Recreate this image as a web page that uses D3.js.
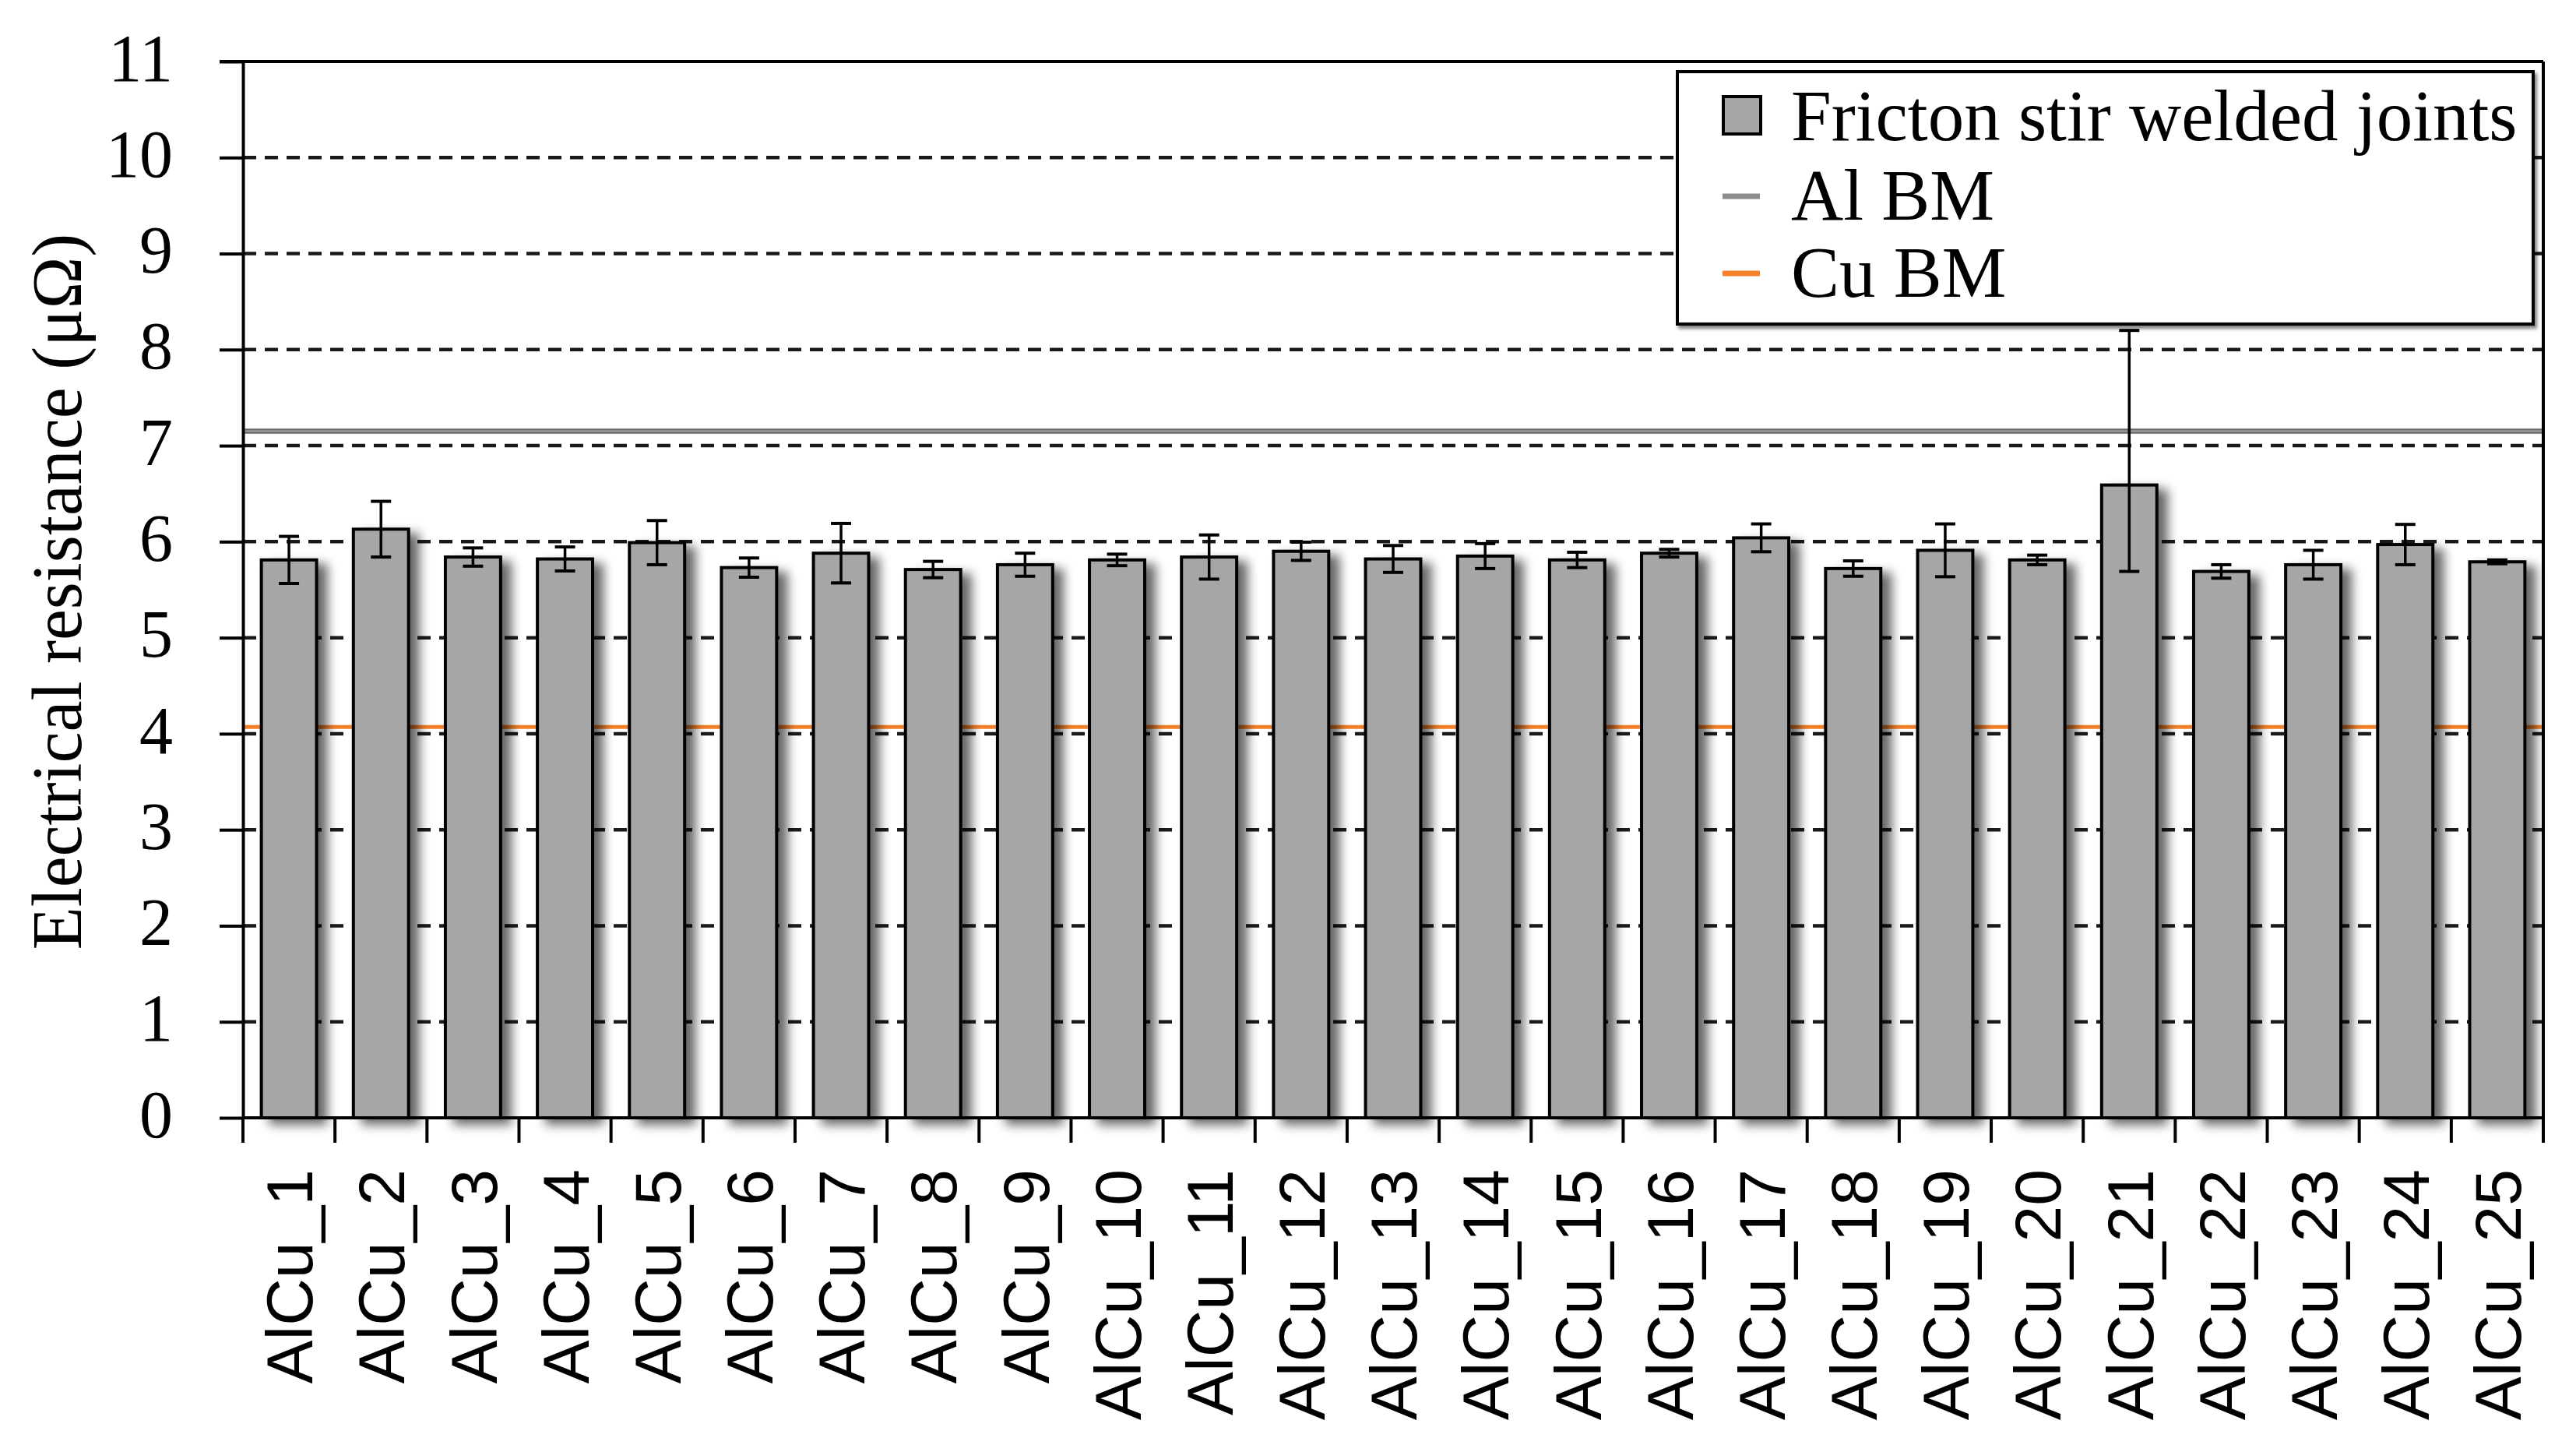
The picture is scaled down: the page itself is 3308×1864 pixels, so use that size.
<!DOCTYPE html>
<html>
<head>
<meta charset="utf-8">
<script src="https://cdn.jsdelivr.net/npm/d3@7"></script>
<style>
  html, body { margin: 0; padding: 0; background: #fff; }
  svg { display: block; }
</style>
</head>
<body>
<svg id="chart" width="3308" height="1864"></svg>
<script>
// ---------------- data ----------------
const categories = ["AlCu_1","AlCu_2","AlCu_3","AlCu_4","AlCu_5","AlCu_6","AlCu_7","AlCu_8","AlCu_9","AlCu_10",
  "AlCu_11","AlCu_12","AlCu_13","AlCu_14","AlCu_15","AlCu_16","AlCu_17","AlCu_18","AlCu_19","AlCu_20",
  "AlCu_21","AlCu_22","AlCu_23","AlCu_24","AlCu_25"];
const resistance = [5.81, 6.13, 5.84, 5.82, 5.99, 5.73, 5.88, 5.71, 5.76, 5.81,
  5.84, 5.90, 5.82, 5.85, 5.81, 5.88, 6.04, 5.72, 5.91, 5.81,
  6.59, 5.69, 5.76, 5.97, 5.79];
const errLow = [0.245, 0.29, 0.095, 0.125, 0.23, 0.10, 0.31, 0.085, 0.12, 0.06,
  0.23, 0.095, 0.14, 0.13, 0.08, 0.04, 0.145, 0.08, 0.275, 0.05,
  0.90, 0.07, 0.15, 0.21, 0.02];
const errHigh = [0.245, 0.29, 0.095, 0.125, 0.23, 0.10, 0.31, 0.085, 0.12, 0.06,
  0.23, 0.095, 0.14, 0.13, 0.08, 0.04, 0.145, 0.08, 0.275, 0.05,
  1.61, 0.07, 0.15, 0.21, 0.02];
const alBM = 7.15;
const cuBM = 4.07;
const yTicks = [0,1,2,3,4,5,6,7,8,9,10,11];
const legendLabels = ["Fricton stir welded joints", "Al BM", "Cu BM"];
const yTitle = "Electrical resistance (\u03bc\u03a9)";

// ---------------- layout ----------------
const L = 312, R = 3266, T = 79, B = 1435;
const svg = d3.select("#chart");
const serif = "'Liberation Serif', 'DejaVu Serif', serif";
const sans = "'Liberation Sans', Arial, sans-serif";
const barFill = "#a6a6a6";
const alColor = "#8c8c8c";
const cuColor = "#f5822a";

const x = d3.scaleBand().domain(categories).range([L, R]).paddingInner(0.4).paddingOuter(0.2);
const y = d3.scaleLinear().domain([0, 11]).range([B, T]);
const step = x.step();

const defs = svg.append("defs");
const f = defs.append("filter").attr("id", "shadow")
  .attr("x", "-20%").attr("y", "-5%").attr("width", "160%").attr("height", "115%");
f.append("feGaussianBlur").attr("in", "SourceAlpha").attr("stdDeviation", 7).attr("result", "blur");
f.append("feOffset").attr("in", "blur").attr("dx", 12).attr("dy", 7).attr("result", "off");
f.append("feComponentTransfer").attr("in", "off").attr("result", "sh")
  .append("feFuncA").attr("type", "linear").attr("slope", 0.6);
const fm = f.append("feMerge");
fm.append("feMergeNode").attr("in", "sh");
fm.append("feMergeNode").attr("in", "SourceGraphic");

const lf = defs.append("filter").attr("id", "lshadow")
  .attr("x", "-5%").attr("y", "-5%").attr("width", "110%").attr("height", "115%");
lf.append("feGaussianBlur").attr("in", "SourceAlpha").attr("stdDeviation", 2).attr("result", "blur");
lf.append("feOffset").attr("in", "blur").attr("dx", 3).attr("dy", 4).attr("result", "off");
lf.append("feComponentTransfer").attr("in", "off").attr("result", "sh")
  .append("feFuncA").attr("type", "linear").attr("slope", 0.5);
const lfm = lf.append("feMerge");
lfm.append("feMergeNode").attr("in", "sh");
lfm.append("feMergeNode").attr("in", "SourceGraphic");

// gridlines (dashed)
svg.append("g").selectAll("line").data(yTicks.filter(v => v > 0 && v < 11)).join("line")
  .attr("x1", L).attr("x2", R).attr("y1", d => y(d)).attr("y2", d => y(d))
  .attr("stroke", "#1a1a1a").attr("stroke-width", 4.5).attr("stroke-dasharray", "17,11");

// reference lines
svg.append("line").attr("x1", L).attr("x2", R).attr("y1", y(cuBM)).attr("y2", y(cuBM))
  .attr("stroke", cuColor).attr("stroke-width", 5);
svg.append("line").attr("x1", L).attr("x2", R).attr("y1", y(alBM)).attr("y2", y(alBM))
  .attr("stroke", "#666").attr("stroke-width", 6.5);
svg.append("line").attr("x1", L).attr("x2", R).attr("y1", y(alBM)).attr("y2", y(alBM))
  .attr("stroke", "#999").attr("stroke-width", 2.5);

// bars
svg.append("g").attr("filter", "url(#shadow)").selectAll("rect").data(categories).join("rect")
  .attr("x", d => x(d)).attr("width", x.bandwidth())
  .attr("y", (d, i) => y(resistance[i])).attr("height", (d, i) => y(0) - y(resistance[i]))
  .attr("fill", barFill).attr("stroke", "#000").attr("stroke-width", 4);

// error bars
const eg = svg.append("g").attr("stroke", "#000").attr("stroke-width", 3.5);
categories.forEach((c, i) => {
  const cx = x(c) + x.bandwidth() / 2;
  const hi = y(resistance[i] + errHigh[i]), lo = y(resistance[i] - errLow[i]);
  eg.append("line").attr("x1", cx).attr("x2", cx).attr("y1", hi).attr("y2", lo);
  eg.append("line").attr("x1", cx - 13).attr("x2", cx + 13).attr("y1", hi).attr("y2", hi).attr("stroke-width", 4);
  eg.append("line").attr("x1", cx - 13).attr("x2", cx + 13).attr("y1", lo).attr("y2", lo).attr("stroke-width", 4);
});

// y axis
const yAxis = svg.append("g").attr("transform", `translate(${L},0)`)
  .call(d3.axisLeft(y).tickValues(yTicks).tickSize(30).tickSizeOuter(0).tickPadding(60));
yAxis.select(".domain").attr("stroke", "#000").attr("stroke-width", 4);
yAxis.selectAll(".tick line").attr("stroke", "#000").attr("stroke-width", 4);
yAxis.selectAll(".tick text").attr("font-family", serif).attr("font-size", 86)
  .attr("fill", "#000").attr("dy", "0.28em");

// x axis (labels)
const xAxis = svg.append("g").attr("transform", `translate(0,${B})`)
  .call(d3.axisBottom(x).tickSize(0).tickSizeOuter(0));
xAxis.select(".domain").remove();
xAxis.selectAll(".tick text")
  .attr("font-family", sans).attr("font-size", 84).attr("fill", "#000")
  .attr("text-anchor", "end").attr("transform", "rotate(-90)")
  .attr("x", -66).attr("y", 0).attr("dy", "0.36em");

// x ticks at category boundaries
const bounds = categories.map(c => x(c) - step * x.paddingOuter()).concat([R]);
svg.append("g").selectAll("line").data(bounds).join("line")
  .attr("x1", d => d).attr("x2", d => d).attr("y1", B).attr("y2", B + 32)
  .attr("stroke", "#000").attr("stroke-width", 4);

// frame
svg.append("line").attr("x1", L).attr("x2", R).attr("y1", B).attr("y2", B).attr("stroke", "#000").attr("stroke-width", 4);
svg.append("line").attr("x1", L - 30).attr("x2", R).attr("y1", T).attr("y2", T).attr("stroke", "#000").attr("stroke-width", 4);
svg.append("line").attr("x1", R).attr("x2", R).attr("y1", T).attr("y2", B + 32).attr("stroke", "#000").attr("stroke-width", 4);

// y title
svg.append("text").attr("transform", `translate(104,${(301 + 1218) / 2}) rotate(-90)`)
  .attr("text-anchor", "middle").attr("font-family", serif).attr("font-size", 90).attr("fill", "#000")
  .text(yTitle);

// legend
const lg = svg.append("g");
lg.append("rect").attr("x", 2154).attr("y", 92).attr("width", 3253 - 2154).attr("height", 416 - 92)
  .attr("fill", "#fff").attr("stroke", "#000").attr("stroke-width", 4).attr("filter", "url(#lshadow)");
const rowY = [180, 282, 381];
lg.append("rect").attr("x", 2213).attr("y", rowY[0] - 56).attr("width", 48).attr("height", 48)
  .attr("fill", barFill).attr("stroke", "#000").attr("stroke-width", 4);
lg.append("line").attr("x1", 2212).attr("x2", 2260).attr("y1", rowY[1] - 30).attr("y2", rowY[1] - 30)
  .attr("stroke", alColor).attr("stroke-width", 7);
lg.append("line").attr("x1", 2212).attr("x2", 2260).attr("y1", rowY[2] - 30).attr("y2", rowY[2] - 30)
  .attr("stroke", cuColor).attr("stroke-width", 7);
lg.selectAll("text.leg").data(legendLabels).join("text").attr("class", "leg")
  .attr("x", 2300).attr("y", (d, i) => rowY[i])
  .attr("font-family", serif).attr("font-size", 93).attr("fill", "#000")
  .text(d => d);
</script>
</body>
</html>
